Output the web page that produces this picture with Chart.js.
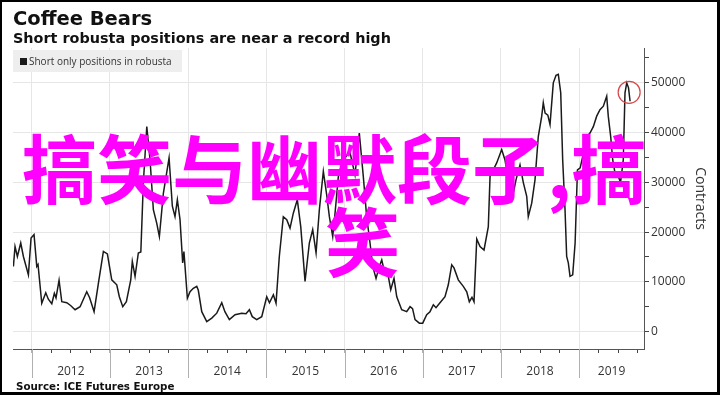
<!DOCTYPE html>
<html>
<head>
<meta charset="utf-8">
<script src="https://cdn.jsdelivr.net/npm/chart.js@4.4.1/dist/chart.umd.min.js"></script>
<style>
  html, body { margin: 0; padding: 0; background: #fff; }
  #wrap { position: relative; width: 720px; height: 395px; overflow: hidden; background: #fff; }
  #c { position: absolute; left: 0; top: 0; }
  .txt { position: absolute; white-space: nowrap; line-height: 1; }
  #title { left: 13px; top: 7px; font: bold 19.5px "DejaVu Sans"; color: #111; }
  #subtitle { left: 13px; top: 29.5px; font: bold 14.4px "DejaVu Sans"; color: #111; }
  #legend { position: absolute; left: 13px; top: 50px; width: 169px; height: 22px; background: #eeeeee; }
  #legsq { position: absolute; left: 7px; top: 8px; width: 7px; height: 7px; background: #1a1a1a; }
  #legtxt { position: absolute; left: 16px; top: 6px; font: 10px "Open Sans"; color: #333; line-height: 1; white-space: nowrap; }
  #source { left: 16px; top: 380.3px; font: bold 10.3px "DejaVu Sans"; color: #111; }
  .wm { position: absolute; white-space: nowrap; line-height: 1; font-family: "Noto Sans CJK SC"; font-weight: 700; font-size: 75px; color: #ff00ff; }
  #wm1 { left: 22px; top: 128px; }
  #wm2 { left: 325px; top: 201px; }
  #frame { position: absolute; left: 0; top: 0; width: 720px; height: 395px; box-sizing: border-box; border: 2px solid #000; border-right-width: 3px; border-bottom-width: 3px; pointer-events: none; }
</style>
</head>
<body>
<div id="wrap">
  <canvas id="c" width="720" height="395"></canvas>
  <div id="title" class="txt">Coffee Bears</div>
  <div id="subtitle" class="txt">Short robusta positions are near a record high</div>
  <div id="legend"><div id="legsq"></div><div id="legtxt">Short only positions in robusta</div></div>
  <div id="source" class="txt">Source: ICE Futures Europe</div>
  <div id="wm1" class="wm">搞笑与幽默段子,搞</div>
  <div id="wm2" class="wm">笑</div>
  <div id="frame"></div>
</div>
<script>
// ---- data (decimal year, short-only contracts) ----
const dates = [
  2011.765, 2011.786, 2011.816, 2011.859, 2011.893, 2011.957, 2011.991, 2012.029, 2012.064, 2012.080,
  2012.128, 2012.179, 2012.212, 2012.256, 2012.289, 2012.310, 2012.349, 2012.384, 2012.448, 2012.500,
  2012.554, 2012.618, 2012.703, 2012.740, 2012.797, 2012.852, 2012.916, 2012.967, 2013.023, 2013.087,
  2013.120, 2013.164, 2013.210, 2013.266, 2013.286, 2013.321, 2013.363, 2013.395, 2013.427, 2013.471,
  2013.513, 2013.555, 2013.598, 2013.632, 2013.683, 2013.756, 2013.798, 2013.832, 2013.862, 2013.896,
  2013.930, 2013.946, 2013.990, 2014.024, 2014.066, 2014.110, 2014.130, 2014.174, 2014.238, 2014.302,
  2014.366, 2014.430, 2014.470, 2014.527, 2014.600, 2014.685, 2014.740, 2014.783, 2014.820, 2014.877,
  2014.941, 2015.005, 2015.040, 2015.090, 2015.124, 2015.166, 2015.217, 2015.261, 2015.303, 2015.345,
  2015.396, 2015.440, 2015.495, 2015.550, 2015.593, 2015.636, 2015.678, 2015.729, 2015.772, 2015.806,
  2015.849, 2015.880, 2015.921, 2015.968, 2016.032, 2016.070, 2016.134, 2016.189, 2016.240, 2016.283,
  2016.326, 2016.361, 2016.403, 2016.445, 2016.476, 2016.505, 2016.560, 2016.591, 2016.633, 2016.668,
  2016.731, 2016.795, 2016.838, 2016.870, 2016.902, 2016.957, 2017.000, 2017.051, 2017.093, 2017.136,
  2017.170, 2017.221, 2017.285, 2017.327, 2017.371, 2017.400, 2017.455, 2017.519, 2017.563, 2017.596,
  2017.630, 2017.656, 2017.691, 2017.733, 2017.784, 2017.839, 2017.861, 2017.946, 2018.010, 2018.052,
  2018.095, 2018.142, 2018.193, 2018.244, 2018.286, 2018.330, 2018.350, 2018.394, 2018.436, 2018.478,
  2018.522, 2018.542, 2018.565, 2018.600, 2018.628, 2018.670, 2018.705, 2018.734, 2018.765, 2018.790,
  2018.820, 2018.841, 2018.862, 2018.884, 2018.918, 2018.949, 2018.979, 2019.014, 2019.056, 2019.100,
  2019.139, 2019.182, 2019.225, 2019.267, 2019.310, 2019.353, 2019.373, 2019.404, 2019.430, 2019.459,
  2019.501, 2019.530, 2019.565, 2019.587, 2019.609, 2019.632, 2019.652
];
const contracts = [
  13100, 17100, 15100, 17800, 15100, 11400, 18800, 19500, 13100, 13500,
  5700, 7800, 6500, 5600, 7700, 6800, 10300, 6000, 5800, 5200,
  4400, 5000, 8000, 6800, 4000, 9700, 16100, 15600, 10400, 9400,
  7000, 5000, 6000, 10400, 14100, 11100, 15800, 16000, 29900, 41200,
  34500, 24500, 21800, 19100, 27800, 34900, 25200, 23100, 26500, 22500,
  13800, 16100, 6700, 8000, 8700, 9100, 8300, 4000, 2000, 2700,
  3700, 5800, 4000, 2400, 3400, 3700, 3600, 4400, 3000, 2400,
  3000, 7000, 5800, 7400, 5700, 15100, 23100, 22500, 20800, 23800,
  26500, 21100, 10100, 17800, 20500, 15800, 24500, 32200, 27500, 23100,
  19100, 24000, 31200, 34000, 35500, 36000, 31500, 39900, 31200, 23100,
  17800, 13100, 10700, 13100, 14400, 12400, 11100, 8400, 10700, 7000,
  4400, 4000, 5000, 4600, 2400, 1700, 1700, 3400, 4000, 5400,
  4800, 5800, 7000, 9400, 13400, 12800, 10400, 9100, 8000, 6000,
  6900, 6000, 18600, 17100, 16400, 21100, 31200, 33900, 36600, 34500,
  30500, 26500, 30500, 33500, 30000, 27200, 23100, 25800, 30500, 39200,
  43300, 46000, 43900, 43500, 41600, 50000, 51500, 51700, 48000, 34500,
  24500, 15100, 13800, 11100, 11400, 17800, 32500, 32900, 35900, 39200,
  39900, 41200, 43300, 44600, 45300, 47300, 43300, 39200, 34500, 31900,
  31200, 30000, 34500, 48000, 50000, 49000, 46300
];
const years = [2012, 2013, 2014, 2015, 2016, 2017, 2018, 2019];
const yTicks = [0, 10000, 20000, 30000, 40000, 50000];
const yMinorTicks = [5000, 15000, 25000, 35000, 45000, 55000];
const xQuarters = [0, 0.25, 0.5, 0.75];
const xMin = 2011.76, xMax = 2019.83;
const yMin = -3500, yMax = 57000;
// highlighted recent high (circle annotation)
const highlight = { x: 2019.64, y: 48100 };

const isYear = v => Math.abs(v - Math.round(v)) < 1e-6;

const extras = {
  id: 'extras',
  afterDraw(chart) {
    const ctx = chart.ctx, xs = chart.scales.x, area = chart.chartArea;
    ctx.save();
    // long year separators below the axis
    ctx.strokeStyle = '#b0b0b0';
    ctx.lineWidth = 1;
    years.forEach(yr => {
      if (yr < xMin || yr > xMax) return;
      const px = Math.round(xs.getPixelForValue(yr)) + 0.5;
      ctx.beginPath();
      ctx.moveTo(px, area.bottom);
      ctx.lineTo(px, area.bottom + 29);
      ctx.stroke();
    });
    // year labels centred in each (visible) year span
    ctx.fillStyle = '#333';
    ctx.font = '12px "Open Sans"';
    ctx.textAlign = 'center';
    ctx.textBaseline = 'middle';
    years.forEach(yr => {
      const a = Math.max(yr, xMin), b = Math.min(yr + 1, xMax);
      if (b <= a) return;
      ctx.fillText(String(yr), xs.getPixelForValue((a + b) / 2), area.bottom + 23);
    });
    // red circle around latest high
    const ys = chart.scales.y;
    ctx.strokeStyle = '#d9474a';
    ctx.lineWidth = 1.2;
    ctx.beginPath();
    ctx.arc(xs.getPixelForValue(highlight.x), ys.getPixelForValue(highlight.y), 11, 0, Math.PI * 2);
    ctx.stroke();
    ctx.restore();
  }
};

const quarterTicks = [];
for (let yr = Math.floor(xMin); yr <= Math.ceil(xMax); yr++) {
  xQuarters.forEach(q => { const v = yr + q; if (v >= xMin && v <= xMax) quarterTicks.push({ value: v }); });
}
const allYTicks = yTicks.concat(yMinorTicks).filter(v => v >= yMin && v <= yMax).sort((a, b) => a - b).map(v => ({ value: v }));

new Chart(document.getElementById('c'), {
  type: 'line',
  data: {
    datasets: [{
      label: 'Short only positions in robusta',
      data: dates.map((d, i) => ({ x: d, y: contracts[i] })),
      borderColor: '#1a1a1a',
      borderWidth: 1.5,
      pointRadius: 0,
      tension: 0,
      fill: false
    }]
  },
  options: {
    responsive: false,
    animation: false,
    devicePixelRatio: 1,
    layout: { padding: { left: 13, top: 48, right: 0, bottom: 0 } },
    plugins: { legend: { display: false }, tooltip: { enabled: false } },
    scales: {
      x: {
        type: 'linear', position: 'bottom', min: xMin, max: xMax,
        afterFit: s => { s.height = 46; },
        afterBuildTicks: s => { s.ticks = quarterTicks.slice(); },
        ticks: { display: false },
        grid: {
          color: c => (c.tick && isYear(c.tick.value)) ? '#e6e6e6' : 'rgba(0,0,0,0)',
          tickColor: c => (c.tick && isYear(c.tick.value)) ? '#b0b0b0' : '#444',
          tickLength: 4,
          drawTicks: true
        },
        border: { display: true, color: '#555', width: 1 }
      },
      y: {
        type: 'linear', position: 'right', min: yMin, max: yMax,
        afterFit: s => { s.width = 76; },
        afterBuildTicks: s => { s.ticks = allYTicks.map(t => ({ value: t.value })); },
        ticks: {
          callback: v => yTicks.includes(v) ? String(v) : '',
          color: '#333',
          font: { family: 'Open Sans', size: 12 },
          padding: 2,
          autoSkip: false
        },
        grid: {
          color: c => (c.tick && yTicks.includes(c.tick.value)) ? '#e6e6e6' : 'rgba(0,0,0,0)',
          tickColor: '#444',
          tickLength: 5
        },
        border: { display: true, color: '#555', width: 1 },
        title: {
          display: true, text: 'Contracts', color: '#333',
          font: { family: 'Open Sans', size: 14 },
          padding: { top: 12, bottom: 0 }
        }
      }
    }
  },
  plugins: [extras]
});
</script>
</body>
</html>
